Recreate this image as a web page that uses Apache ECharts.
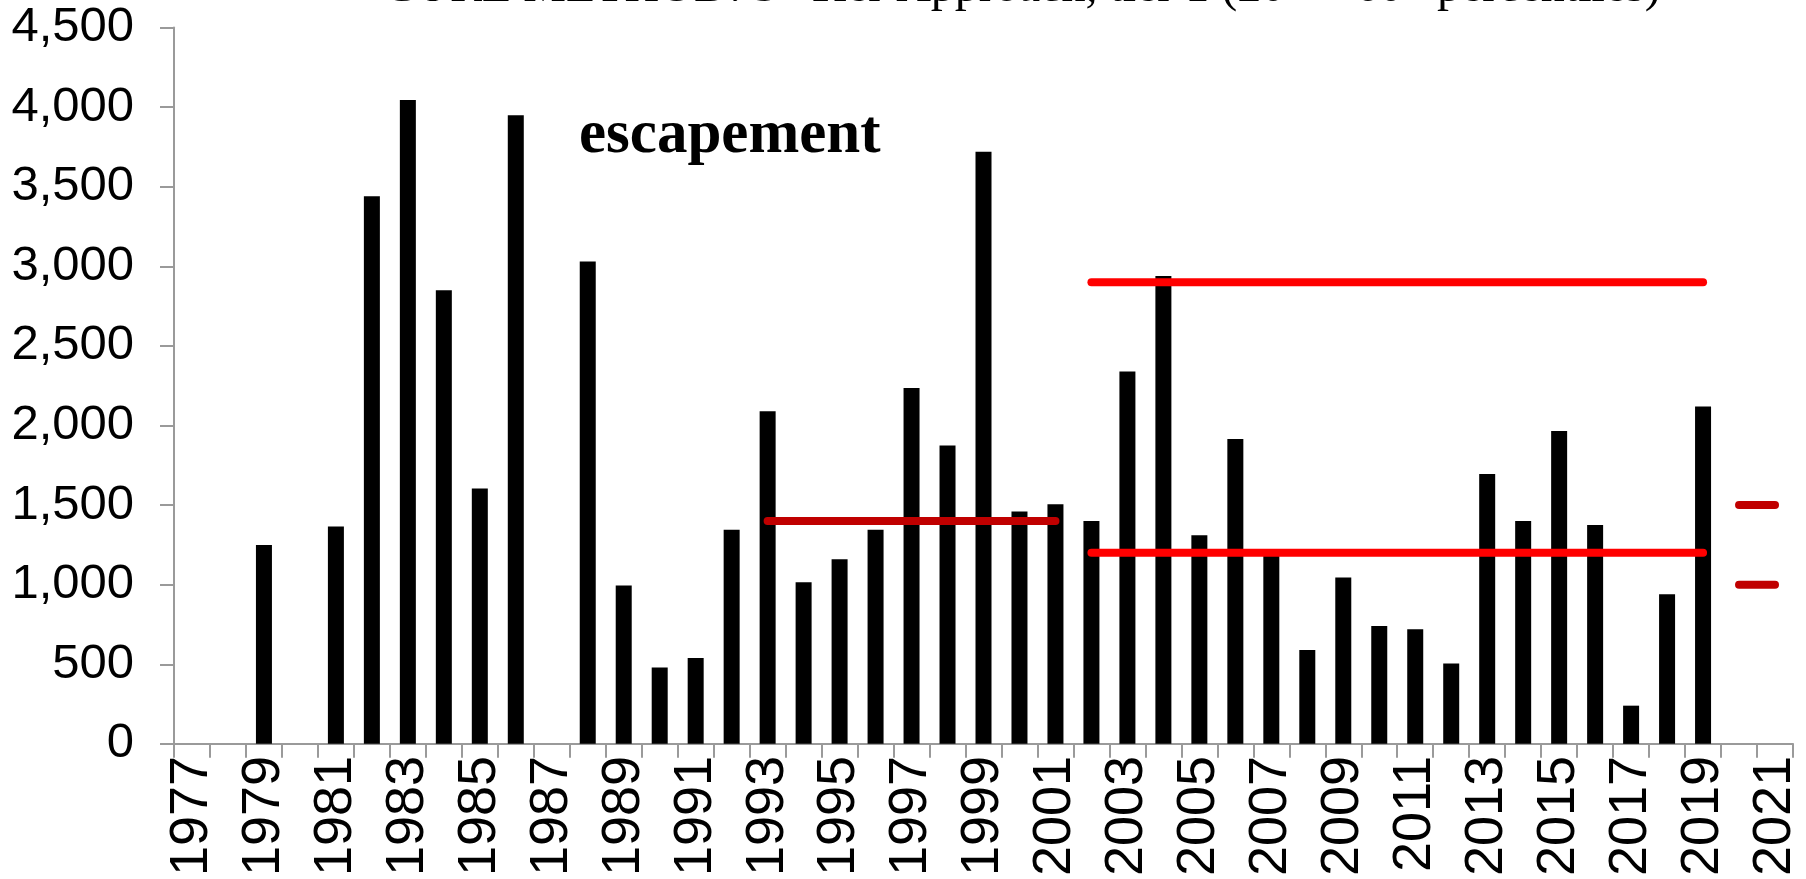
<!DOCTYPE html>
<html>
<head>
<meta charset="utf-8">
<script src="https://cdn.jsdelivr.net/npm/echarts@6/dist/echarts.min.js"></script>
<style>
html,body{margin:0;padding:0;background:#fff;}
#chart{width:1806px;height:879px;}
</style>
</head>
<body>
<div id="chart"></div>
<script>
// Categories (years)
const years = ['1977','1978','1979','1980','1981','1982','1983','1984','1985','1986','1987','1988','1989','1990','1991','1992','1993','1994','1995','1996','1997','1998','1999','2000','2001','2002','2003','2004','2005','2006','2007','2008','2009','2010','2011','2012','2013','2014','2015','2016','2017','2018','2019','2020','2021'];
// Escapement values (null = no data)
const escapement = [null,null,1250,null,1365,3440,4045,2850,1605,3950,null,3030,995,480,540,1345,2090,1015,1160,1345,2235,1875,3720,1460,1505,1400,2340,2940,1310,1915,1225,590,1045,740,720,505,1695,1400,1965,1375,240,940,2120,null,null];
// Reference level segments [year, value]
const earlyLevel = [['1993',1400],['2001',1400]];
const upperLevel = [['2002',2900],['2019',2900]];
const lowerLevel = [['2002',1200],['2019',1200]];
const goalUpper = [['2020',1500],['2021',1500]];
const goalLower = [['2020',1000],['2021',1000]];
// Y tick settings
const yMin = 0, yMax = 4500, yStep = 500;

const chart = echarts.init(document.getElementById('chart'));
const axisGray = '#9a9a9a';
function seg(data, color){
  return {type:'line', data:data, symbol:'none', silent:true, z:5,
    lineStyle:{color:color, width:8, cap:'round'}};
}
chart.setOption({
  animation:false,
  backgroundColor:'#fff',
  grid:{left:174, right:13, top:27.6, bottom:135},
  xAxis:{
    type:'category', data:years, boundaryGap:true,
    axisLine:{lineStyle:{color:axisGray, width:2}},
    axisTick:{show:true, interval:0, length:14, lineStyle:{color:axisGray, width:2}},
    axisLabel:{interval:1, rotate:90, margin:12, color:'#000', fontSize:54, fontFamily:'Liberation Sans'}
  },
  yAxis:{
    type:'value', min:yMin, max:yMax, interval:yStep,
    splitLine:{show:false},
    axisLine:{show:true, lineStyle:{color:axisGray, width:2}},
    axisTick:{show:true, length:14, lineStyle:{color:axisGray, width:2}},
    axisLabel:{margin:40, color:'#000', fontSize:49, fontFamily:'Liberation Sans',
      formatter:v=>v.toLocaleString('en-US')}
  },
  graphic:[
    {type:'text', x:1022, y:12, silent:true,
      style:{text:'{n|CURE METHOD: 3- Tier Approach, tier 1 (20}{s|th}{n| – 60}{s|th}{n| percentiles)}',
        align:'center', verticalAlign:'bottom',
        rich:{n:{fontFamily:'Liberation Serif', fontSize:48, fill:'#000'},
              s:{fontFamily:'Liberation Serif', fontSize:28, fill:'#000', verticalAlign:'top'}}}},
    {type:'text', x:579, y:167, silent:true,
      style:{text:'escapement', fontFamily:'Liberation Serif', fontWeight:'bold', fontSize:61, fill:'#000',
        align:'left', verticalAlign:'bottom'}}
  ],
  series:[
    {type:'bar', data:escapement, barWidth:16, itemStyle:{color:'#000'}, z:2},
    seg(earlyLevel,'#c00000'),
    seg(upperLevel,'#ff0000'),
    seg(lowerLevel,'#ff0000'),
    seg(goalUpper,'#c00000'),
    seg(goalLower,'#c00000')
  ]
});
</script>
</body>
</html>
